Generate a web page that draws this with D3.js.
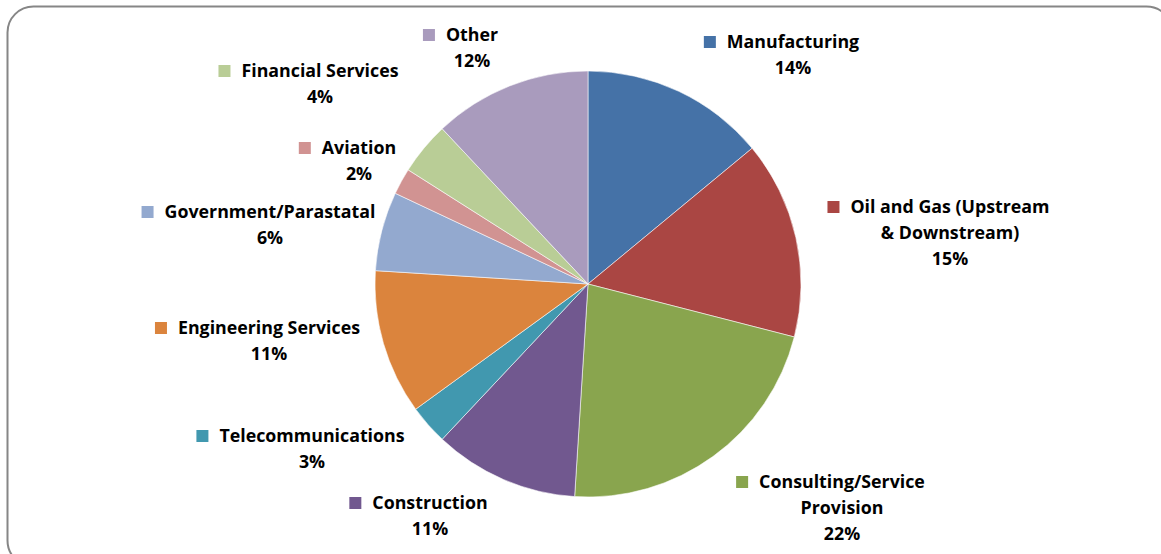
<!DOCTYPE html>
<html>
<head>
<meta charset="utf-8">
<script src="https://cdn.jsdelivr.net/npm/d3@7"></script>
<style>
  html, body { margin: 0; padding: 0; background: #ffffff; }
  svg { display: block; }
  .lbl { font-family: "Open Sans", Lato, sans-serif; font-weight: 700; font-size: 17.8px; fill: #000; }
</style>
</head>
<body>
<svg id="chart" width="1161" height="554"></svg>
<script>
// Sectors of respondents, share in percent
const categories = [
  "Manufacturing",
  "Oil and Gas (Upstream & Downstream)",
  "Consulting/Service Provision",
  "Construction",
  "Telecommunications",
  "Engineering Services",
  "Government/Parastatal",
  "Aviation",
  "Financial Services",
  "Other"
];
const shares = [14, 15, 22, 11, 3, 11, 6, 2, 4, 12];

// Label text as it wraps on the chart
const labelLines = [
  ["Manufacturing"],
  ["Oil and Gas (Upstream", "& Downstream)"],
  ["Consulting/Service", "Provision"],
  ["Construction"],
  ["Telecommunications"],
  ["Engineering Services"],
  ["Government/Parastatal"],
  ["Aviation"],
  ["Financial Services"],
  ["Other"]
];

const colors = ["#4572A7", "#AA4643", "#89A54E", "#71588F", "#4198AF",
                "#DB843D", "#93A9CF", "#D19392", "#B9CD96", "#A99BBD"];

// Label anchor: text-centre x and first-line centre y
const labelPos = [
  [793, 42], [950, 207], [842, 482], [430, 503], [312, 436],
  [269, 328], [270, 212], [359, 148], [320, 71], [472, 35]
];

const svg = d3.select("#chart");

// Rounded frame around the chart area
svg.append("rect")
  .attr("x", 7.5).attr("y", 6.5)
  .attr("width", 1165).attr("height", 560)
  .attr("rx", 26).attr("ry", 26)
  .attr("fill", "#fff")
  .attr("stroke", "#868686")
  .attr("stroke-width", 2);

const cx = 588, cy = 284, radius = 213;

const pie = d3.pie().sort(null).value(d => d.v);
const arcs = pie(categories.map((c, i) => ({ c, v: shares[i], i })));
const arc = d3.arc().innerRadius(0).outerRadius(radius);

const g = svg.append("g").attr("transform", `translate(${cx},${cy})`);
g.selectAll("path")
  .data(arcs)
  .join("path")
  .attr("d", arc)
  .attr("fill", d => colors[d.data.i])
  .attr("stroke", "#ffffff")
  .attr("stroke-width", 0.7)
  .attr("stroke-opacity", 0.8);

// Data labels: legend key, category name, percentage
const lineH = 26;
arcs.forEach(d => {
  const i = d.data.i;
  const [tx, ty] = labelPos[i];
  const lines = labelLines[i].concat([d3.format(".0f")(shares[i]) + "%"]);
  const lg = svg.append("g");
  let firstW = 0;
  lines.forEach((t, k) => {
    const txt = lg.append("text")
      .attr("class", "lbl")
      .attr("x", tx)
      .attr("y", ty + k * lineH)
      .attr("dy", "0.35em")
      .attr("text-anchor", "middle")
      .text(t);
    if (k === 0) firstW = txt.node().getComputedTextLength();
  });
  lg.append("rect")
    .attr("x", tx - firstW / 2 - 23)
    .attr("y", ty - 6)
    .attr("width", 12).attr("height", 12)
    .attr("fill", colors[i]);
});
</script>
</body>
</html>
